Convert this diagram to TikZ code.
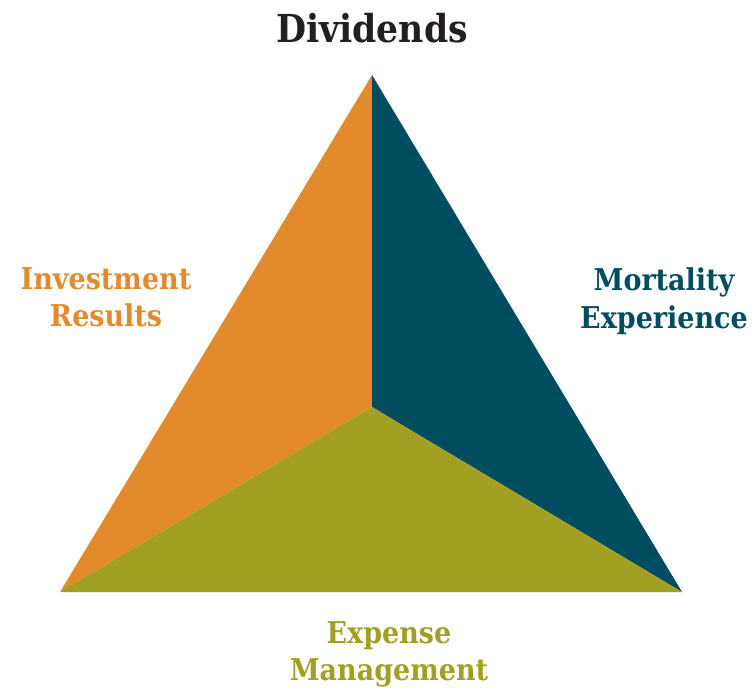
\documentclass[tikz,border=0pt]{standalone}
\usepackage{fontspec}
\setmainfont{DejaVu Serif Condensed}
\definecolor{invest}{HTML}{E38B2C}
\definecolor{mortal}{HTML}{004D60}
\definecolor{expense}{HTML}{A1A022}
\definecolor{ink}{HTML}{231F20}
\begin{document}
\begin{tikzpicture}[x=1pt, y=-1pt,
    face/.style={draw=none},
    heading/.style={font=\fontsize{38.5}{42}\selectfont\bfseries, text=ink, anchor=base, inner sep=0pt},
    label/.style={font=\fontsize{30}{34}\selectfont\bfseries, anchor=base, inner sep=0pt}]
  % pixel-like frame, y running down
  \useasboundingbox (0,0) rectangle (752,688);
  \coordinate (top) at (372,75);
  \coordinate (left) at (60,592);
  \coordinate (right) at (682,592);
  \coordinate (mid) at (372,407);
  % three faces meeting at the middle point
  \fill[face, invest] (top) -- (mid) -- (left) -- cycle;
  \fill[face, mortal] (top) -- (right) -- (mid) -- cycle;
  \fill[face, expense] (left) -- (mid) -- (right) -- cycle;
  \node[heading] (dividends) at (372,42) {Dividends};
  \node[label, text=invest] (investment) at (106,289) {Investment};
  \node[label, text=invest] (results) at (106,326) {Results};
  \node[label, text=mortal] (mortality) at (664,290) {Mortality};
  \node[label, text=mortal] (experience) at (664,328) {Experience};
  \node[label, text=expense] (expensetext) at (389,643) {Expense};
  \node[label, text=expense] (management) at (389,680) {Management};
\end{tikzpicture}
\end{document}
